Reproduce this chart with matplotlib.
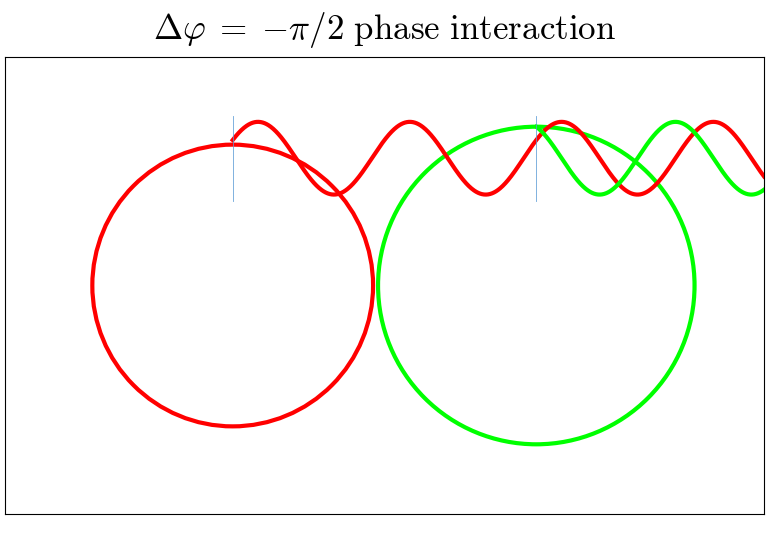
import numpy as np
import matplotlib
matplotlib.use("Agg")
import matplotlib.pyplot as plt
from matplotlib.patches import Circle

plt.rcParams['mathtext.fontset'] = 'cm'

# Data
centers_x = [0.0, 4 * np.pi]          # circle centres (x)
radii = [5.81, 6.55]                   # circle radii
colors = ['#ff0000', '#00ff00']
wave_start_phase = [np.pi / 6, 2 * np.pi / 3]  # phase at each wave's start
wave_mid = 5.25
wave_amp = 1.5
marker_y = [3.5, 7.0]
x_limits = [-3 * np.pi, 7 * np.pi]
y_limits = [-3 * np.pi, 3 * np.pi]

fig = plt.figure(figsize=(7.69, 5.50), dpi=100)
ax = fig.add_axes([5 / 769, 1 - 514 / 550, 759 / 769, 457 / 550])

for cx, r, c, ph in zip(centers_x, radii, colors, wave_start_phase):
    ax.add_patch(Circle((cx, 0), r, fill=False, edgecolor=c, lw=3))
    xs = np.linspace(cx, x_limits[1], 800)
    ax.plot(xs, wave_mid + wave_amp * np.sin(xs - cx + ph), color=c, lw=3)
    ax.plot([cx, cx], marker_y, color='#5b9bd5', lw=0.6, alpha=0.9)

ax.set_xlim(x_limits)
ax.set_ylim(y_limits)
ax.set_xticks([])
ax.set_yticks([])
for s in ax.spines.values():
    s.set_linewidth(0.8)

fig.text(0.5, 1 - 30 / 550,
         r'$\Delta\varphi \;=\; {-\pi}/2\ \mathrm{phase\ interaction}$',
         ha='center', va='center', fontsize=25.2)

fig.savefig('out.png', dpi=100)
